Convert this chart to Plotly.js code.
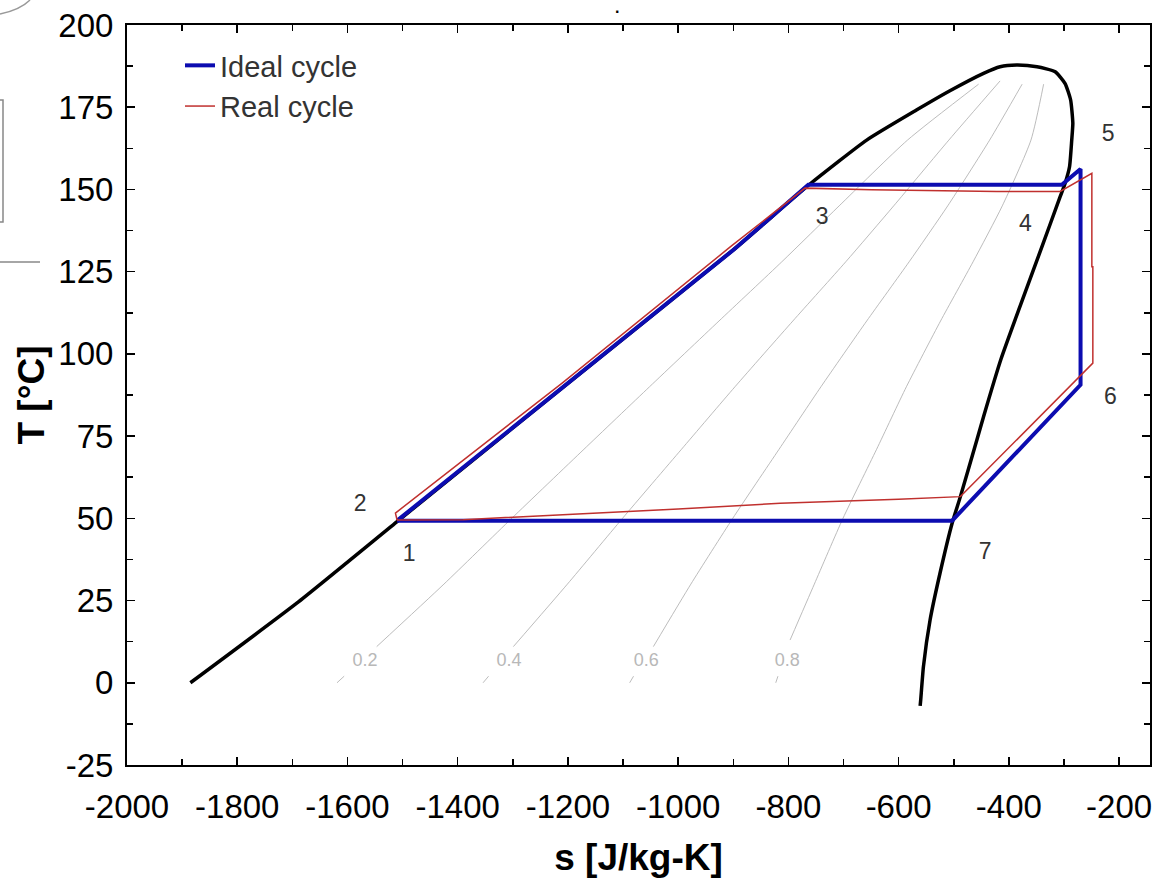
<!DOCTYPE html>
<html>
<head>
<meta charset="utf-8">
<script src="https://cdn.plot.ly/plotly-3.0.1.min.js"></script>
<style>
  html, body { margin: 0; padding: 0; background: #fff; }
  #chart { width: 1157px; height: 878px; }
</style>
</head>
<body>
<div id="chart"></div>
<script>
// ---------- data ----------
// Saturation dome (liquid line -> critical point -> vapour line)
const domeS = [-1885, -1692, -1510, -1208, -900, -762, -658, -567, -507, -446, -416, -386, -349, -316, -298, -288, -284, -286, -290, -298, -307, -340, -380, -414, -446, -458, -488, -503, -525, -543, -555, -560, -561];
const domeT = [0, 24.2, 49, 90, 131.6, 151.5, 165, 174.2, 180, 185.3, 187.3, 187.8, 187.3, 185.8, 182.2, 177.2, 170.1, 165, 156.9, 151.9, 147.8, 132.6, 114.4, 98.6, 80.9, 73.9, 56.6, 48.5, 33.3, 19.1, 5, -5.2, -7];

// Ideal cycle 1-2-3-4-5-6-7-1
const idealS = [-1510, -1208, -900, -764, -304, -270, -270, -503, -1510];
const idealT = [49.3, 90.1, 131.6, 151.4, 151.4, 156.2, 90.6, 49.3, 49.3];

// Real cycle
const realS = [-1510, -1513, -1210, -905, -770, -649, -422, -307, -249.5, -249.5, -247.7, -247.7, -488, -600, -815, -1000, -1200, -1390, -1510];
const realT = [49.5, 51.6, 91.2, 132.6, 150.4, 149.9, 149.4, 149.4, 154.9, 126.5, 126.5, 97.2, 56.6, 55.8, 54.6, 52.8, 51.2, 49.6, 49.5];

// Constant-quality lines (null = gap behind the label)
const q02S = [-1619, -1606, null, -1547, -1425, -1302, -1171, -1052, -926, -812, -708, -584, -455];
const q02T = [0, 2, null, 11, 30, 50, 71, 90, 110, 128, 145, 165, 182];
const q04S = [-1354, -1344, null, -1299, -1201, -1101, -994, -897, -792, -696, -609, -509, -416];
const q04T = [0, 2, null, 11, 30, 50, 71, 90, 110, 128, 145, 165, 183];
const q06S = [-1088, -1081, null, -1045, -977, -901, -817, -741, -658, -581, -511, -435, -376];
const q06T = [0, 2, null, 11, 30, 50, 71, 90, 110, 128, 145, 165, 182];
const q08S = [-823, -819, null, -797, -753, -701, -640, -586, -524, -465, -412, -360, -337];
const q08T = [0, 2, null, 13, 30, 50, 71, 90, 110, 128, 145, 165, 182];

const qLabels = ['0.2', '0.4', '0.6', '0.8'];
const qLabelS = [-1568, -1307, -1058, -802];
const qLabelT = [6.4, 6.4, 6.4, 6.4];

// State point labels
const ptNames = ['1', '2', '3', '4', '5', '6', '7'];
const ptS = [-1488, -1577, -739, -370, -220, -216, -443];
const ptT = [38.9, 54.1, 141.3, 139.2, 166.6, 86.6, 39.5];

// Axes
const xTickVals = [-2000, -1800, -1600, -1400, -1200, -1000, -800, -600, -400, -200];
const yTickVals = [-25, 0, 25, 50, 75, 100, 125, 150, 175, 200];
const xRange = [-2000, -144];
const yRange = [-25, 200];

// ---------- traces ----------
const FONT = 'Arial, "Liberation Sans", sans-serif';
const qualityLine = {color: '#b4b4b4', width: 0.9, shape: 'spline', smoothing: 0.6};
const traces = [];
[[q02S, q02T], [q04S, q04T], [q06S, q06T], [q08S, q08T]].forEach(([s, t]) => {
  traces.push({x: s, y: t, type: 'scatter', mode: 'lines', line: qualityLine,
               connectgaps: false, showlegend: false, hoverinfo: 'skip'});
});
traces.push({x: qLabelS, y: qLabelT, text: qLabels, type: 'scatter', mode: 'text',
             textfont: {family: FONT, size: 18, color: '#b8b8b8'}, showlegend: false, hoverinfo: 'skip'});
traces.push({x: domeS, y: domeT, type: 'scatter', mode: 'lines',
             line: {color: '#000000', width: 3.5, shape: 'spline', smoothing: 0.5}, showlegend: false});
traces.push({x: idealS, y: idealT, type: 'scatter', mode: 'lines', name: 'Ideal cycle',
             line: {color: '#0c0cb0', width: 4}});
traces.push({x: realS, y: realT, type: 'scatter', mode: 'lines', name: 'Real cycle',
             line: {color: '#c0302e', width: 1.5}});
traces.push({x: ptS, y: ptT, text: ptNames, type: 'scatter', mode: 'text',
             textfont: {family: FONT, size: 23, color: '#333333'}, showlegend: false, hoverinfo: 'skip'});

// ---------- layout ----------
const L = 127, R = 1150, T = 25, B = 765;
const px = v => (v - L) / (R - L);
const py = v => (B - v) / (B - T);

const axisCommon = {
  showgrid: false, zeroline: false, showline: true, linecolor: '#000', linewidth: 2,
  mirror: 'ticks', ticks: 'inside', ticklen: 8, tickwidth: 1.5, tickcolor: '#000',
  tickfont: {family: FONT, size: 33, color: '#000'}
};

const layout = {
  width: 1157, height: 878,
  margin: {l: L, r: 1157 - R, t: T, b: 878 - B},
  paper_bgcolor: '#fff', plot_bgcolor: '#fff',
  font: {family: FONT},
  xaxis: Object.assign({}, axisCommon, {
    range: xRange, tickvals: xTickVals, ticktext: xTickVals.map(String),
    ticklabelstandoff: 11,
    minor: {ticks: 'inside', ticklen: 6, dtick: 100, tick0: -2000, tickcolor: '#000', tickwidth: 1.5},
    title: {text: 's [J/kg-K]', font: {family: FONT, size: 37, color: '#000', weight: 'bold'}, standoff: 24}
  }),
  yaxis: Object.assign({}, axisCommon, {
    range: yRange, tickvals: yTickVals, ticktext: yTickVals.map(String),
    ticklabelstandoff: 5,
    minor: {ticks: 'inside', ticklen: 6, dtick: 12.5, tick0: 0, tickcolor: '#000', tickwidth: 1.5},
    title: {text: 'T [°C]', font: {family: FONT, size: 37, color: '#000', weight: 'bold'}, standoff: 2}
  }),
  showlegend: true,
  legend: {
    x: px(180), y: py(40), xanchor: 'left', yanchor: 'top',
    bgcolor: 'rgba(0,0,0,0)', borderwidth: 0,
    font: {family: FONT, size: 29, color: '#333'},
    tracegroupgap: 0
  },
  annotations: [
    {xref: 'paper', yref: 'paper', x: px(617), y: py(8), yanchor: 'middle', text: '.', showarrow: false,
     font: {family: FONT, size: 16, color: '#000', weight: 'bold'}}
  ],
  shapes: [
    {type: 'line', xref: 'paper', yref: 'paper', x0: px(0), x1: px(40), y0: py(262), y1: py(262),
     line: {color: '#888', width: 1.5}},
    {type: 'path', xref: 'paper', yref: 'paper',
     path: `M${px(0)},${py(100)} L${px(3)},${py(100)} L${px(3)},${py(222)} L${px(0)},${py(222)}`,
     line: {color: '#888', width: 1.5}},
    {type: 'path', xref: 'paper', yref: 'paper',
     path: `M${px(0)},${py(14)} Q${px(20)},${py(10)} ${px(30)},${py(0)}`,
     line: {color: '#999', width: 1.5}}
  ]
};

Plotly.newPlot('chart', traces, layout, {displayModeBar: false, staticPlot: true});
</script>
</body>
</html>
